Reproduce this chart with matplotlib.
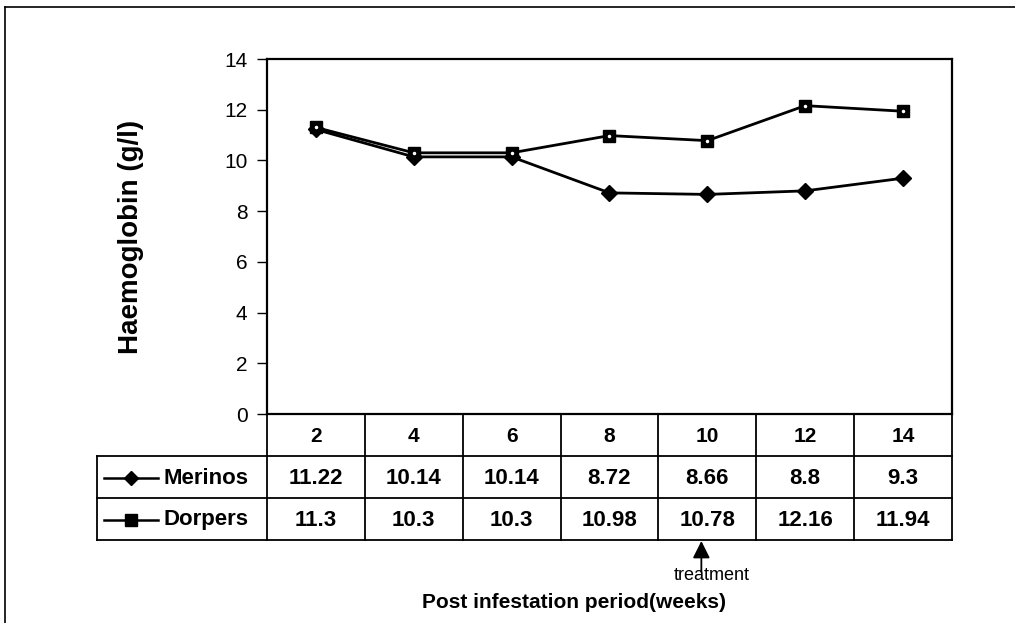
import matplotlib
matplotlib.use("Agg")
import matplotlib.pyplot as plt

plt.rcParams['font.family'] = ['Liberation Sans', 'DejaVu Sans']

weeks = [2, 4, 6, 8, 10, 12, 14]
merinos = [11.22, 10.14, 10.14, 8.72, 8.66, 8.8, 9.3]
dorpers = [11.3, 10.3, 10.3, 10.98, 10.78, 12.16, 11.94]
series_names = ["Merinos", "Dorpers"]
yticks = [0, 2, 4, 6, 8, 10, 12, 14]
treatment_week = 10

W, H = 1015, 623
fig = plt.figure(figsize=(W / 100, H / 100), dpi=100)

# pixel layout
L, R, T, B = 267, 952, 59, 414
ax = fig.add_axes([L / W, 1 - B / H, (R - L) / W, (B - T) / H])
ax.set_xlim(weeks[0] - 1, weeks[-1] + 1)
ax.set_ylim(0, 14)
ax.set_yticks(yticks)
ax.set_yticklabels([str(v) for v in yticks], fontsize=15)
ax.set_xticks([])
ax.tick_params(axis='y', direction='out', length=7, width=1, pad=7)
for s in ax.spines.values():
    s.set_linewidth(1.6)
    s.set_color('black')

ax.plot(weeks, merinos, color='black', lw=2, marker='D', ms=8,
        mfc='black', mec='black', zorder=3)
ax.plot(weeks, dorpers, color='black', lw=2, marker='s', ms=9,
        mfc='black', mec='black', zorder=4)
ax.plot(weeks, dorpers, ls='none', marker='.', ms=3, color='white', zorder=5)

ax.set_ylabel("Haemoglobin (g/l)", fontsize=20, fontweight='bold', labelpad=58)

# overlay for table, frame and annotations (pixel coords)
ov = fig.add_axes([0, 0, 1, 1])
ov.set_xlim(0, W)
ov.set_ylim(H, 0)
ov.axis('off')
ov.set_zorder(5)
ov.patch.set_alpha(0)

# outer frame (left and top)
ov.plot([5, 5], [7, H], color='black', lw=1.2)
ov.plot([5, W], [7, 7], color='black', lw=1.2)

# table geometry
rows_y = [414, 456, 498, 540]
lab_left = 97
ncol = len(weeks)
colw = (R - L) / ncol
col_x = [L + i * colw for i in range(ncol + 1)]
lw_t = 1.3
ov.plot([L, R], [rows_y[0], rows_y[0]], color='black', lw=lw_t)
for y in rows_y[1:]:
    ov.plot([lab_left, R], [y, y], color='black', lw=lw_t)
for x in col_x:
    ov.plot([x, x], [rows_y[0], rows_y[-1]], color='black', lw=lw_t)
ov.plot([lab_left, lab_left], [rows_y[1], rows_y[-1]], color='black', lw=lw_t)

for i, w in enumerate(weeks):
    cx = (col_x[i] + col_x[i + 1]) / 2
    ov.text(cx, (rows_y[0] + rows_y[1]) / 2 + 1, str(w), ha='center', va='center',
            fontsize=15, fontweight='bold')
    ov.text(cx, (rows_y[1] + rows_y[2]) / 2 + 1, f"{merinos[i]:g}", ha='center',
            va='center', fontsize=16, fontweight='bold')
    ov.text(cx, (rows_y[2] + rows_y[3]) / 2 + 1, f"{dorpers[i]:g}", ha='center',
            va='center', fontsize=16, fontweight='bold')

# legend keys
markers = ['D', 's']
msz = [7, 8]
for r, (name, mk, ms) in enumerate(zip(series_names, markers, msz)):
    yc = (rows_y[r + 1] + rows_y[r + 2]) / 2 + 1
    ov.plot([104, 158], [yc, yc], color='black', lw=1.8)
    ov.plot([131], [yc], marker=mk, ms=ms, color='black')
    ov.text(164, yc, name, ha='left', va='center', fontsize=16, fontweight='bold')

# treatment arrow
tx = col_x[weeks.index(treatment_week)] + colw / 2 - 6
ov.annotate("", xy=(tx, 541), xytext=(tx, 572),
            arrowprops=dict(arrowstyle='-|>', color='black', lw=1.3,
                            mutation_scale=26, shrinkA=0, shrinkB=0))
ov.text(tx + 10, 576, "treatment", ha='center', va='center', fontsize=13)

ov.text(574, 603, "Post infestation period(weeks)", ha='center', va='center',
        fontsize=15, fontweight='bold')

fig.savefig("out.png", dpi=100, facecolor='white')
